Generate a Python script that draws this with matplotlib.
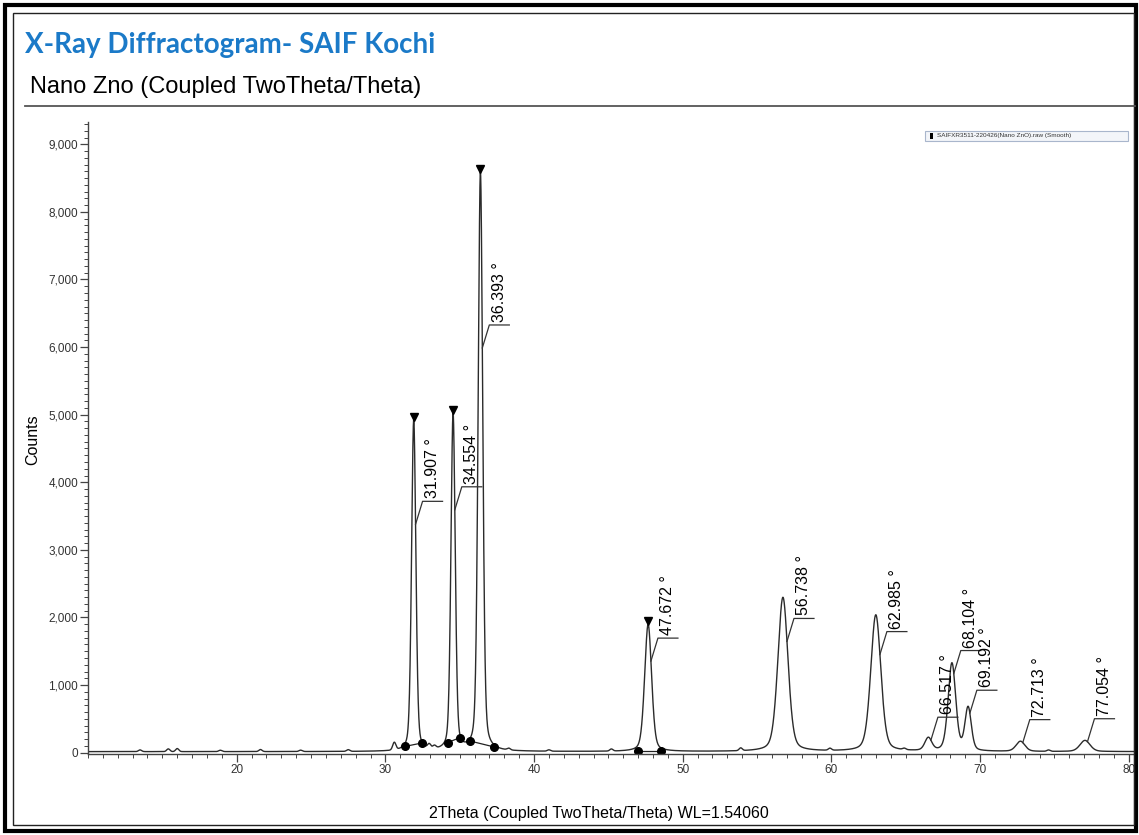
import matplotlib
matplotlib.use("Agg")
import matplotlib.pyplot as plt
import numpy as np
from matplotlib.lines import Line2D
from matplotlib.patches import Rectangle
from matplotlib.ticker import FuncFormatter, MultipleLocator

# fitted reflections: 2theta (deg), net counts, FWHM (deg)
peak_pos = [31.907, 34.554, 36.393, 47.672, 56.738, 62.985, 66.517, 68.104, 69.192, 72.713, 77.054]
peak_height = [4900, 4980, 8560, 1880, 2280, 2020, 190, 1300, 640, 150, 165]
peak_fwhm = [0.34, 0.34, 0.36, 0.55, 0.8, 0.8, 0.55, 0.6, 0.5, 0.7, 0.8]
marked_peaks = [31.907, 34.554, 36.393, 47.672]

# small background features
bump_pos = [13.5, 15.4, 16.0, 18.9, 21.6, 24.3, 27.5, 30.6, 32.95, 33.3, 38.3, 41.0, 45.2, 53.9, 59.9, 64.9, 74.6]
bump_height = [25, 40, 45, 20, 30, 20, 25, 110, 60, 40, 25, 20, 30, 40, 30, 20, 20]
background_level = 15

# background fit points (2theta, counts), joined in pairs
bg_x = [31.34, 32.46, 34.18, 35.01, 35.68, 37.32, 47.0, 48.57]
bg_y = [93, 143, 148, 222, 173, 84, 25, 25]

W, H = 1139, 835


def pseudo_voigt(x, x0, h, w, eta=0.3):
    d = (x - x0) / w
    return h * (eta / (1 + 4 * d ** 2) + (1 - eta) * np.exp(-4 * np.log(2) * d ** 2))


two_theta = np.arange(10.0, 80.35, 0.01)
counts = np.full_like(two_theta, background_level, dtype=float)
for p, b in zip(bump_pos, bump_height):
    counts += pseudo_voigt(two_theta, p, b, 0.25, eta=0.0)
for p, h, w in zip(peak_pos, peak_height, peak_fwhm):
    counts += pseudo_voigt(two_theta, p, h, w)

fig = plt.figure(figsize=(W / 100, H / 100), dpi=100)
ax = fig.add_axes([88 / W, 1 - 754 / H, 1046 / W, 632 / H])

ax.plot(two_theta, counts, color="#2b2b2b", lw=1.0)

# background segments with end points
for i in range(0, len(bg_x), 2):
    ax.plot(bg_x[i:i + 2], bg_y[i:i + 2], color="#222222", lw=0.9,
            marker="o", ms=5.5, mfc="black", mec="black")

# peak-top markers
for p in marked_peaks:
    sel = np.abs(two_theta - p) < 0.2
    ax.plot(p, counts[sel].max() + 45, marker="v", ms=5.5, color="black")

x_lo, x_hi = 10, 80.35
y_lo, y_hi = -20, 9330
ax.set_xlim(x_lo, x_hi)
ax.set_ylim(y_lo, y_hi)
deg_px = (x_hi - x_lo) / 1046
cnt_px = (y_hi - y_lo) / 632

# peak labels with leader lines
for p, h in zip(peak_pos, peak_height):
    i0 = np.argmin(np.abs(two_theta - p))
    y_start = 0.72 * h if h >= 1500 else 0.9 * h
    j = i0
    while counts[j] > y_start + background_level and j < len(counts) - 1:
        j += 1
    xs, ys = two_theta[j], counts[j]
    xc, yc = xs + 7 * deg_px, ys + 23 * cnt_px
    ax.plot([xs, xc, xc + 20 * deg_px], [ys, yc, yc], color="#333333", lw=0.9)
    ax.text(xc + 10 * deg_px, yc + 3 * cnt_px, f"{p:.3f} °", rotation=90,
            rotation_mode="anchor", ha="left", va="center",
            fontsize=11.5, family="Liberation Sans", color="black")

for s in ("top", "right"):
    ax.spines[s].set_visible(False)
for s in ("left", "bottom"):
    ax.spines[s].set_color("#444444")
    ax.spines[s].set_linewidth(1.0)

ax.xaxis.set_major_locator(MultipleLocator(10))
ax.xaxis.set_minor_locator(MultipleLocator(1))
ax.set_xticks([20, 30, 40, 50, 60, 70, 80])
ax.yaxis.set_major_locator(MultipleLocator(1000))
ax.yaxis.set_minor_locator(MultipleLocator(100))
ax.yaxis.set_major_formatter(FuncFormatter(lambda v, _: f"{int(v):,}"))
ax.tick_params(which="major", length=5.5, width=0.9, color="#444444",
               labelsize=8.5, labelcolor="#333333", pad=1.5)
ax.tick_params(which="minor", length=3, width=0.7, color="#444444")
for lab in ax.get_xticklabels() + ax.get_yticklabels():
    lab.set_family("Liberation Sans")

ax.set_xlabel("2Theta (Coupled TwoTheta/Theta) WL=1.54060",
              family="Liberation Sans", fontsize=11.5)
ax.xaxis.set_label_coords(0.4885, -0.083)
ax.set_ylabel("Counts", family="Liberation Sans", fontsize=11.5)
ax.yaxis.set_label_coords(-0.046, 0.497)

# scan legend
fig.add_artist(Rectangle((925 / W, 1 - 141 / H), 203 / W, 10 / H,
                         transform=fig.transFigure, fc="#f3f5f9", ec="#a9b6cc", lw=0.8))
fig.add_artist(Rectangle((930 / W, 1 - 139 / H), 2.5 / W, 6 / H,
                         transform=fig.transFigure, fc="black", ec="none"))
fig.text(937 / W, 1 - 136 / H, "SAIFXR3511-220426(Nano ZnO).raw (Smooth)",
         fontsize=4.6, family="Liberation Sans", color="#333333", va="center")

# header
fig.text(25 / W, 1 - 45 / H, "X-Ray Diffractogram- SAIF Kochi", color="#1b7ac8",
         fontsize=20, fontweight="bold", family="Lato", va="center")
fig.text(30 / W, 1 - 87 / H, "Nano Zno (Coupled TwoTheta/Theta)", color="black",
         fontsize=17, family="Liberation Sans", va="center")
fig.add_artist(Line2D([25 / W, 1135 / W], [1 - 106 / H, 1 - 106 / H],
                      transform=fig.transFigure, color="#555555", lw=1.3))

# page frame
fig.add_artist(Rectangle((5 / W, 4 / H), 1131 / W, 826 / H, transform=fig.transFigure,
                         fill=False, ec="black", lw=3.0))
fig.add_artist(Rectangle((13 / W, 10 / H), 1121 / W, 812 / H, transform=fig.transFigure,
                         fill=False, ec="#222222", lw=1.0))

fig.savefig("out.png", dpi=100)
